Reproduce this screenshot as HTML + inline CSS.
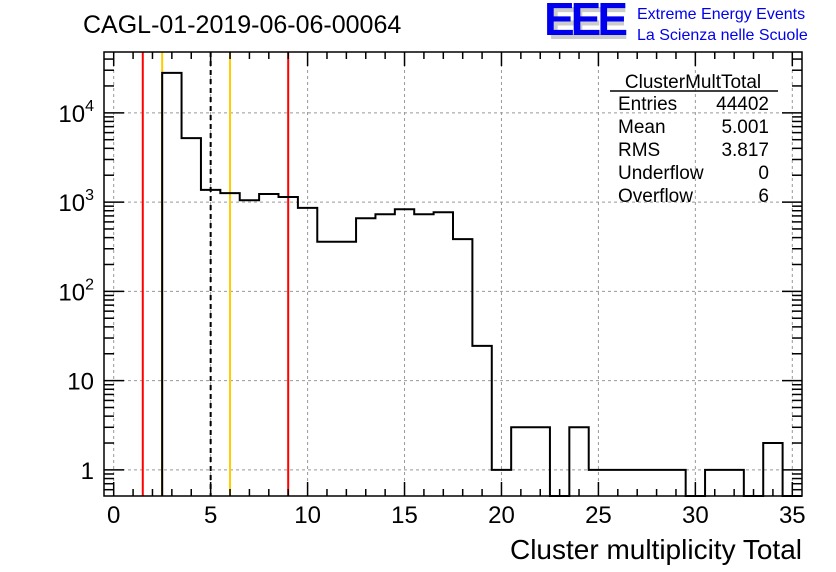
<!DOCTYPE html>
<html><head><meta charset="utf-8"><style>
body{margin:0;background:#fff;}
svg{display:block;font-family:"Liberation Sans",sans-serif;}
</style></head><body>
<svg id="c" width="836" height="572"></svg>
<script>
const binCenters=[3,4,5,6,7,8,9,10,11,12,13,14,15,16,17,18,19,20,21,22,23,24,25,26,27,28,29,30,31,32,33,34,35];
const binValues=[28000,5200,1370,1260,1050,1230,1140,860,360,360,660,730,830,730,770,385,24.5,1,3,3,0,3,1,1,1,1,1,0,1,1,0,2,0];
const xTicks=[0,5,10,15,20,25,30,35];
const yTicks=[1,10,100,1000,10000];
const yTickLabels=["1","10","10^2","10^3","10^4"];
const vlines=[{x:1.5,c:"#ff0000",d:""},{x:2.5,c:"#ffcc00",d:""},{x:5.001,c:"#000",d:"5,4"},{x:6,c:"#ffcc00",d:""},{x:9,c:"#ff0000",d:""}];
const statsLabels=["Entries","Mean","RMS","Underflow","Overflow"];
const statsValues=["44402","5.001","3.817","0","6"];

const L=104,R=802,T=52,B=496,xmin=-0.5,xmax=35.5;
const ylo=Math.log10(0.51),yhi=Math.log10(48000);
const sx=v=>L+(v-xmin)/(xmax-xmin)*(R-L);
const sy=v=>B-(Math.log10(v)-ylo)/(yhi-ylo)*(B-T);
const svg=document.getElementById('c');const NS="http://www.w3.org/2000/svg";
function mk(t,a,p){const e=document.createElementNS(NS,t);for(const k in a)e.setAttribute(k,a[k]);(p||svg).appendChild(e);return e;}
// grid
for(const t of xTicks){const g=mk('line',{x1:sx(t),x2:sx(t),y1:T,y2:B,stroke:'#999','stroke-dasharray':'3,3','stroke-width':1});

}
for(const t of yTicks){const g=mk('line',{x1:L,x2:R,y1:sy(t),y2:sy(t),stroke:'#999','stroke-dasharray':'3,3','stroke-width':1});

}
for(const v of vlines){const l=mk('line',{x1:sx(v.x),x2:sx(v.x),y1:T,y2:B,stroke:v.c,'stroke-width':2,'stroke-dasharray':v.d});

}
// histogram
let d="";let prev=null;
for(let i=0;i<binCenters.length;i++){const x0=sx(binCenters[i]-0.5),x1=sx(binCenters[i]+0.5);
const v=binValues[i];const y=v>0?sy(v):B;
if(prev===null)d+=`M${x0},${B}L${x0},${y}`;else d+=`L${x0},${y}`;d+=`L${x1},${y}`;prev=y;}
const h=mk('path',{d:d,fill:'none',stroke:'#000','stroke-width':2});


// frame
const f=mk('rect',{x:L,y:T,width:R-L,height:B-T,fill:'none',stroke:'#000','stroke-width':1.5});


// x ticks
for(let v=0;v<=35;v++){const big=v%5===0;const len=big?14:7;
mk('line',{x1:sx(v),x2:sx(v),y1:B,y2:B-len,stroke:'#000','stroke-width':1.5});
mk('line',{x1:sx(v),x2:sx(v),y1:T,y2:T+len,stroke:'#000','stroke-width':1.5});}
for(const t of xTicks){const e=mk('text',{x:sx(t),y:B+27,'text-anchor':'middle','font-size':24});e.textContent=t;

}
// y ticks
for(let dec=-1;dec<=4;dec++){for(let m=1;m<10;m++){const v=m*Math.pow(10,dec);if(v<0.51||v>48000)continue;const len=m===1?20:10;
mk('line',{x1:L,x2:L+len,y1:sy(v),y2:sy(v),stroke:'#000','stroke-width':1.5});
mk('line',{x1:R,x2:R-len,y1:sy(v),y2:sy(v),stroke:'#000','stroke-width':1.5});}}
yTicks.forEach((t,i)=>{const lab=yTickLabels[i];const e=mk('text',{x:L-10,y:sy(t)+9,'text-anchor':'end','font-size':24});
if(lab.includes('^')){const [b,p]=lab.split('^');e.textContent=b;const s=mk('tspan',{dy:-11,'font-size':16},e);s.textContent=p;}else e.textContent=lab;

});
// titles
let e=mk('text',{x:802,y:559,'text-anchor':'end','font-size':28});e.textContent="Cluster multiplicity Total";

e=mk('text',{x:83,y:33,'font-size':25});e.textContent="CAGL-01-2019-06-06-00064";

// logo
e=mk('text',{x:548,y:39,'font-size':46,fill:'#ccc','font-weight':'bold',textLength:80});e.textContent="EEE";
e=mk('text',{x:544,y:35,'font-size':46,fill:'#0000ee','font-weight':'bold',textLength:84});e.textContent="EEE";

e=mk('text',{x:637,y:19,'font-size':16,fill:'#0000ee'});e.textContent="Extreme Energy Events";

e=mk('text',{x:637,y:40,'font-size':16,fill:'#0000ee'});e.textContent="La Scienza nelle Scuole";

// stats
e=mk('text',{x:693,y:88,'text-anchor':'middle','font-size':19});e.textContent="ClusterMultTotal";

mk('line',{x1:610,x2:778,y1:91,y2:91,stroke:'#000','stroke-width':1.5});
statsLabels.forEach((s,i)=>{const y=110+i*23;
let a=mk('text',{x:618,y:y,'font-size':19});a.textContent=s;

a=mk('text',{x:769,y:y,'text-anchor':'end','font-size':19});a.textContent=statsValues[i];
});
</script>
</body></html>
